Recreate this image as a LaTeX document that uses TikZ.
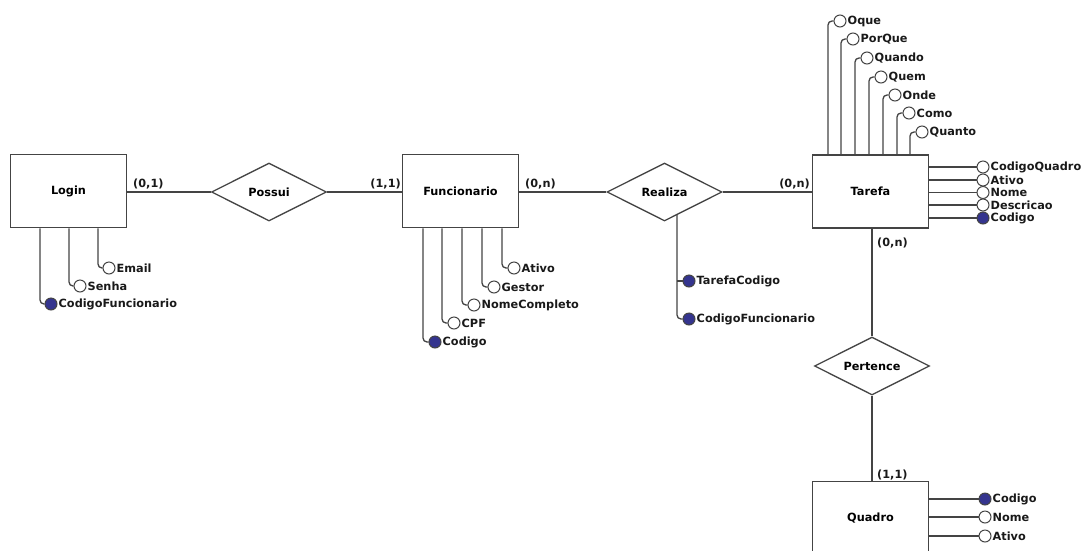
\documentclass[tikz,border=0pt]{standalone}
\usepackage{fontspec}
\setmainfont{DejaVu Sans}
\usetikzlibrary{shapes.geometric,backgrounds}
\definecolor{ln}{HTML}{444444}
\definecolor{keyblue}{HTML}{34348E}
\newcommand\erfont{\fontsize{11.3pt}{13pt}\selectfont\bfseries}
\tikzset{
  ent/.style={draw=ln, line width=1.8pt, fill=white, minimum width=116pt, minimum height=73pt, inner sep=0pt, font=\erfont},
  rel/.style={diamond, aspect=2, draw=ln, line width=1.3pt, fill=white, minimum width=115pt, minimum height=58pt, inner sep=0pt, font=\erfont},
  att/.style={circle, draw=ln, line width=1pt, fill=white, minimum size=12pt, inner sep=0pt},
  key/.style={att, fill=keyblue},
  lbl/.style={anchor=west, font=\erfont, inner sep=1pt, text=black!90},
  card/.style={font=\erfont, inner sep=1pt, text=black!90},
  con/.style={draw=ln, line width=1.3pt, rounded corners=4pt},
}
\begin{document}
\begin{tikzpicture}[x=1pt, y=-1pt]
\useasboundingbox (0,0) rectangle (1087,550);
\clip (0,0) rectangle (1087,550);
\begin{pgfonlayer}{background}
\fill[white] (0,0) rectangle (1087,550);
\end{pgfonlayer}

% entities
\node[ent] (Login) at (68.5,191) {Login};
\node[ent] (Func) at (460.5,191) {Funcionario};
\node[ent] (Tarefa) at (870.5,191.5) {Tarefa};
\node[ent] (Quadro) at (870.5,518) {Quadro};

% relationships
\node[rel] (Possui) at (269,192) {Possui};
\node[rel] (Realiza) at (664.5,192) {Realiza};
\node[rel] (Pertence) at (872,366) {Pertence};

% relationship lines
\draw[con] (Login.east |- Possui.west) -- (Possui.west);
\draw[con] (Possui.east) -- (Func.west |- Possui.east);
\draw[con] (Func.east |- Realiza.west) -- (Realiza.west);
\draw[con] (Realiza.east) -- (Tarefa.west |- Realiza.east);
\draw[con] (Tarefa.south -| Pertence.north) -- (Pertence.north);
\draw[con] (Pertence.south) -- (Quadro.north -| Pertence.south);

% cardinalities
\node[card, anchor=south west] (c1) at (132,190) {(0,1)};
\node[card, anchor=south east] (c2) at (402,190) {(1,1)};
\node[card, anchor=south west] (c3) at (524,190) {(0,n)};
\node[card, anchor=south east] (c4) at (811,190) {(0,n)};
\node[card, anchor=west] (c5) at (876,243) {(0,n)};
\node[card, anchor=south west] (c6) at (876,481) {(1,1)};

% Login attributes
\foreach \n/\lx/\y/\t/\s in {lEm/98/268/Email/att, lSe/69/286/Senha/att, lCo/40/304/CodigoFuncionario/key}{
  \node[\s] (\n) at (\lx+11,\y) {};
  \node[lbl] at (\n.east) {\t};
  \coordinate (\n-x) at (\lx,\y);
  \draw[con] (\n-x |- Login.south) |- (\n.west);
}

% Funcionario attributes
\foreach \n/\lx/\y/\t/\s in {fAt/502/268/Ativo/att, fGe/482/287/Gestor/att, fNo/462/305/NomeCompleto/att, fCp/442/323/CPF/att, fCo/423/342/Codigo/key}{
  \node[\s] (\n) at (\lx+12,\y) {};
  \node[lbl] at (\n.east) {\t};
  \coordinate (\n-x) at (\lx,\y);
  \draw[con] (\n-x |- Func.south) |- (\n.west);
}

% Realiza attributes
\node[key] (rTC) at (689,281) {};
\node[lbl] at (rTC.east) {TarefaCodigo};
\node[key] (rCF) at (689,319) {};
\node[lbl] at (rCF.east) {CodigoFuncionario};
\coordinate (rx) at (677,250);
\begin{pgfonlayer}{background}
\draw[con] (rx |- Realiza.center) |- (rCF.west);
\draw[con] (rTC.west -| rx) -- (rTC.west);
\end{pgfonlayer}

% Tarefa top attributes
\foreach \n/\lx/\y/\t in {tOq/828/21/Oque, tPq/841/39/PorQue, tQd/855/58/Quando, tQm/869/77/Quem, tOn/883/95/Onde, tCm/897/113/Como, tQt/910/132/Quanto}{
  \node[att] (\n) at (\lx+12,\y) {};
  \node[lbl] at (\n.east) {\t};
  \coordinate (\n-x) at (\lx,\y);
  \draw[con] (\n-x |- Tarefa.north) |- (\n.west);
}

% Tarefa right attributes
\foreach \n/\y/\t/\s in {tCQ/167/CodigoQuadro/att, tAt/180/Ativo/att, tNo/192.5/Nome/att, tDe/205/Descricao/att, tCo/218/Codigo/key}{
  \node[\s] (\n) at (983,\y) {};
  \node[lbl] at (\n.east) {\t};
  \draw[con] (\n.west -| Tarefa.east) -- (\n.west);
}

% Quadro attributes
\foreach \n/\y/\t/\s in {qCo/499/Codigo/key, qNo/517/Nome/att, qAt/536/Ativo/att}{
  \node[\s] (\n) at (985,\y) {};
  \node[lbl] at (\n.east) {\t};
  \draw[con] (\n.west -| Quadro.east) -- (\n.west);
}
\end{tikzpicture}
\end{document}
